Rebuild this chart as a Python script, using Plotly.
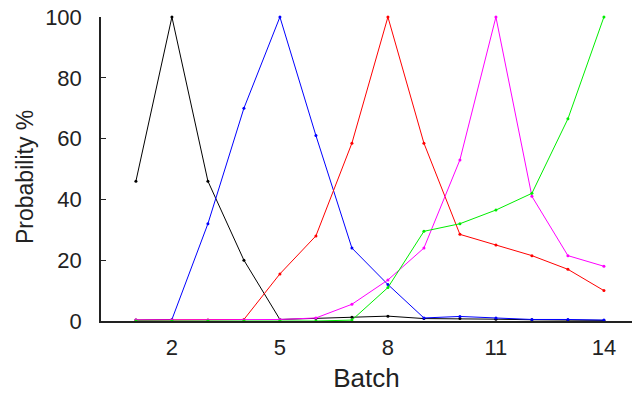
import plotly.graph_objects as go

batches = list(range(1, 15))
black = [46, 100, 46, 20, 0.5, 0.8, 1.2, 1.6, 0.8, 0.8, 0.6, 0.4, 0.3, 0.2]
blue = [0.3, 0.5, 32, 70, 100, 61, 24, 12, 1, 1.5, 1, 0.5, 0.5, 0.3]
red = [0.3, 0.3, 0.3, 0.5, 15.5, 28, 58.5, 100, 58.5, 28.5, 25, 21.5, 17, 10]
magenta = [0.3, 0.3, 0.3, 0.3, 0.5, 1, 5.5, 13.5, 24, 53, 100, 41, 21.5, 18]
green = [0, 0, 0, 0, 0, 0, 0.3, 11, 29.5, 32, 36.5, 42, 66.5, 100]

series = [
    ("black", black, "#000000"),
    ("blue", blue, "#0000ff"),
    ("red", red, "#ff0000"),
    ("magenta", magenta, "#ff00ff"),
    ("green", green, "#00ee00"),
]

xtick_vals = [2, 5, 8, 11, 14]
ytick_vals = [0, 20, 40, 60, 80, 100]

fig = go.Figure()
for name, vals, col in series:
    fig.add_trace(go.Scatter(
        x=batches, y=vals, mode="lines+markers", name=name,
        line=dict(color=col, width=1),
        marker=dict(color=col, size=3),
        cliponaxis=False,
    ))

font = "Liberation Sans, Arial, Helvetica, sans-serif"
fig.update_layout(
    width=632, height=393,
    margin=dict(l=101, r=0, t=17, b=72),
    paper_bgcolor="white", plot_bgcolor="white",
    showlegend=False,
    font=dict(family=font, size=22, color="#222222"),
)
fig.update_xaxes(
    range=[0.03, 14.78], tickvals=xtick_vals, ticks="",
    showgrid=False, zeroline=False, automargin=False,
    showline=True, linecolor="#222222", linewidth=1.5,
    title=dict(text="Batch", standoff=10),
    ticklabelstandoff=6,
)
fig.update_yaxes(
    range=[0, 100], tickvals=ytick_vals, ticks="inside", ticklen=5,
    tickcolor="#222222", tickwidth=1,
    showgrid=False, zeroline=False, automargin=False,
    showline=True, linecolor="#222222", linewidth=1.5,
    ticklabelstandoff=13,
)
fig.add_annotation(
    text="Probability %", xref="paper", yref="paper",
    x=(25 - 101) / 531, y=(321 - 177) / 304,
    xanchor="center", yanchor="middle", textangle=-90,
    showarrow=False, font=dict(family=font, size=23, color="#222222"),
)
fig.write_html(
    "out.html",
    config={"displayModeBar": False},
    post_script="document.body.style.margin='0';document.body.style.overflow='hidden';",
)
